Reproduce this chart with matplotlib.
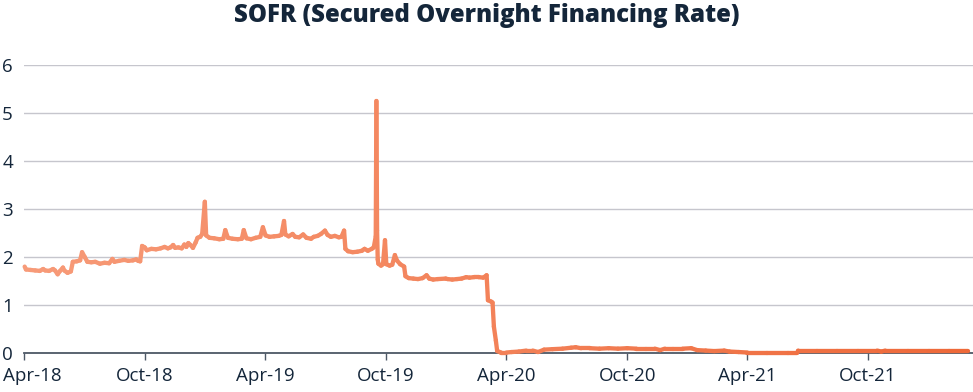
import numpy as np
import pandas as pd
import matplotlib
matplotlib.use("Agg")
import matplotlib.pyplot as plt
import matplotlib.dates as mdates
from matplotlib.collections import LineCollection
from matplotlib.colors import to_rgb
from matplotlib.transforms import ScaledTranslation

# ---------------- data ----------------
dates = [
    "2018-04-02", "2018-04-04", "2018-04-11", "2018-04-18", "2018-04-25", "2018-04-30",
    "2018-05-03", "2018-05-09", "2018-05-15", "2018-05-18", "2018-05-22", "2018-05-25",
    "2018-05-30", "2018-06-01", "2018-06-06", "2018-06-11", "2018-06-14", "2018-06-20",
    "2018-06-25", "2018-06-28", "2018-07-02", "2018-07-06", "2018-07-12", "2018-07-18",
    "2018-07-25", "2018-08-01", "2018-08-08", "2018-08-13", "2018-08-16", "2018-08-23",
    "2018-08-31", "2018-09-06", "2018-09-13", "2018-09-18", "2018-09-21", "2018-09-24",
    "2018-09-27", "2018-10-01", "2018-10-04", "2018-10-11", "2018-10-18", "2018-10-25",
    "2018-10-31", "2018-11-05", "2018-11-09", "2018-11-13", "2018-11-16", "2018-11-21",
    "2018-11-26", "2018-11-30", "2018-12-03", "2018-12-06", "2018-12-10", "2018-12-13",
    "2018-12-17", "2018-12-20", "2018-12-24", "2018-12-27", "2018-12-31",
    "2019-01-02", "2019-01-07", "2019-01-14", "2019-01-22", "2019-01-28", "2019-01-31",
    "2019-02-04", "2019-02-11", "2019-02-19", "2019-02-25", "2019-02-28", "2019-03-04",
    "2019-03-11", "2019-03-18", "2019-03-25", "2019-03-29", "2019-04-02", "2019-04-08",
    "2019-04-15", "2019-04-22", "2019-04-26", "2019-04-30", "2019-05-02", "2019-05-07",
    "2019-05-13", "2019-05-17", "2019-05-23", "2019-05-29", "2019-06-03", "2019-06-10",
    "2019-06-14", "2019-06-20", "2019-06-25", "2019-07-01", "2019-07-05", "2019-07-10",
    "2019-07-16", "2019-07-22", "2019-07-26", "2019-07-30", "2019-08-01", "2019-08-05",
    "2019-08-12", "2019-08-19", "2019-08-26", "2019-08-30", "2019-09-04", "2019-09-10",
    "2019-09-13", "2019-09-16", "2019-09-17", "2019-09-18", "2019-09-19", "2019-09-20",
    "2019-09-24", "2019-09-27", "2019-09-30", "2019-10-02", "2019-10-07", "2019-10-11",
    "2019-10-15", "2019-10-18", "2019-10-23", "2019-10-29", "2019-10-31", "2019-11-05",
    "2019-11-12", "2019-11-19", "2019-11-26", "2019-12-02", "2019-12-06", "2019-12-12",
    "2019-12-19", "2019-12-31",
    "2020-01-03", "2020-01-10", "2020-01-17", "2020-01-24", "2020-01-31", "2020-02-05",
    "2020-02-12", "2020-02-19", "2020-02-26", "2020-03-02", "2020-03-04", "2020-03-09",
    "2020-03-11", "2020-03-13", "2020-03-16", "2020-03-18", "2020-03-24", "2020-04-01",
    "2020-04-09", "2020-04-20", "2020-05-01", "2020-05-11", "2020-05-19", "2020-05-28",
    "2020-06-10", "2020-06-25", "2020-07-08", "2020-07-15", "2020-07-23", "2020-08-05",
    "2020-08-20", "2020-09-03", "2020-09-17", "2020-10-01", "2020-10-15", "2020-10-29",
    "2020-11-12", "2020-11-20", "2020-11-27", "2020-12-10", "2020-12-24",
    "2021-01-06", "2021-01-15", "2021-01-28", "2021-02-10", "2021-02-25", "2021-03-05",
    "2021-03-19", "2021-04-01", "2021-05-01", "2021-06-01", "2021-06-16", "2021-06-17",
    "2021-07-15", "2021-08-15", "2021-09-15", "2021-10-15", "2021-10-21", "2021-10-27",
    "2021-12-01", "2022-01-01", "2022-02-01", "2022-03-01",
]
sofr = [
    1.80, 1.74, 1.73, 1.72, 1.71, 1.75,
    1.72, 1.71, 1.75, 1.72, 1.64, 1.70,
    1.78, 1.72, 1.67, 1.70, 1.90, 1.91,
    1.93, 2.10, 2.00, 1.90, 1.89, 1.90,
    1.86, 1.88, 1.87, 1.96, 1.90, 1.92,
    1.94, 1.92, 1.93, 1.95, 1.92, 1.91,
    2.23, 2.20, 2.14, 2.17, 2.16, 2.18,
    2.21, 2.18, 2.20, 2.25, 2.19, 2.20,
    2.18, 2.26, 2.21, 2.29, 2.24, 2.19,
    2.30, 2.40, 2.42, 2.48, 3.15,
    2.45, 2.40, 2.39, 2.37, 2.38, 2.56,
    2.40, 2.38, 2.37, 2.38, 2.56, 2.39,
    2.37, 2.40, 2.42, 2.62, 2.45, 2.42,
    2.43, 2.44, 2.46, 2.75, 2.47, 2.43,
    2.48, 2.42, 2.41, 2.47, 2.40, 2.38,
    2.42, 2.44, 2.48, 2.55, 2.46, 2.42,
    2.44, 2.41, 2.42, 2.55, 2.17, 2.12,
    2.10, 2.11, 2.13, 2.17, 2.13, 2.17,
    2.20, 2.43, 5.25, 2.55, 1.95, 1.86,
    1.82, 1.85, 2.35, 1.85, 1.82, 1.84,
    2.04, 1.93, 1.85, 1.80, 1.60, 1.56,
    1.55, 1.54, 1.56, 1.62, 1.55, 1.53,
    1.54, 1.55,
    1.54, 1.53, 1.54, 1.55, 1.58, 1.57,
    1.58, 1.58, 1.57, 1.62, 1.10, 1.07,
    1.05, 0.55, 0.26, 0.04, 0.01, 0.01,
    0.02, 0.03, 0.05, 0.05, 0.02, 0.07,
    0.08, 0.09, 0.11, 0.12, 0.10, 0.10,
    0.09, 0.10, 0.09, 0.10, 0.09, 0.09,
    0.09, 0.06, 0.09, 0.09, 0.09,
    0.10, 0.06, 0.05, 0.04, 0.05, 0.03,
    0.02, 0.01, 0.01, 0.01, 0.01, 0.05,
    0.05, 0.05, 0.05, 0.05, 0.03, 0.05,
    0.05, 0.05, 0.05, 0.05,
]
tick_dates = ["2018-04-01", "2018-10-01", "2019-04-01", "2019-10-01",
              "2020-04-01", "2020-10-01", "2021-04-01", "2021-10-01"]
tick_labels = ["Apr-18", "Oct-18", "Apr-19", "Oct-19",
               "Apr-20", "Oct-20", "Apr-21", "Oct-21"]
y_ticks = [0, 1, 2, 3, 4, 5, 6]
title = "SOFR (Secured Overnight Financing Rate)"

# ---------------- style ----------------
TEXT = "#14263a"
GRID = "#c6c6cd"
AXIS = "#4d5866"
C_START = "#f79b79"
C_END = "#ee6838"

plt.rcParams["font.family"] = ["Open Sans", "DejaVu Sans"]

fig = plt.figure(figsize=(9.73, 3.92), dpi=100)
W, H = 973, 392
ax = fig.add_axes([24 / W, 39 / H, (973 - 24) / W, (353 - 65) / H])

x = mdates.date2num(pd.to_datetime(dates))
y = np.array(sofr)
pts = np.column_stack([x, y]).reshape(-1, 1, 2)
segs = np.concatenate([pts[:-1], pts[1:]], axis=1)
frac = (x[:-1] - x.min()) / (x.max() - x.min())
c0, c1 = np.array(to_rgb(C_START)), np.array(to_rgb(C_END))
cols = c0[None, :] * (1 - frac[:, None]) + c1[None, :] * frac[:, None]
lc = LineCollection(segs, colors=cols, linewidths=3.1, capstyle="round",
                    joinstyle="round", zorder=3)
lc.set_clip_on(False)
ax.add_collection(lc)

ax.set_xlim(mdates.date2num(pd.Timestamp("2018-04-01")),
            mdates.date2num(pd.Timestamp("2022-03-09")))
ax.set_ylim(0, 6)

ax.set_yticks(y_ticks)
ax.set_yticklabels([str(v) for v in y_ticks])
ax.set_xticks(mdates.date2num(pd.to_datetime(tick_dates)))
ax.set_xticklabels(tick_labels)

ax.grid(axis="y", color=GRID, linewidth=1.0, zorder=0)
ax.set_axisbelow(True)
for s in ["top", "right", "left"]:
    ax.spines[s].set_visible(False)
ax.spines["bottom"].set_color(AXIS)
ax.spines["bottom"].set_linewidth(1.3)
ax.spines["bottom"].set_zorder(2)

ax.tick_params(axis="y", length=0, pad=8, labelsize=13.5, labelcolor=TEXT)
ax.tick_params(axis="x", length=5, width=1.0, color=AXIS, pad=5,
               labelsize=13.5, labelcolor=TEXT)

# keep the first date label inside the figure, as in the reference
first = ax.get_xticklabels()[0]
first.set_horizontalalignment("left")
first.set_transform(first.get_transform() +
                    ScaledTranslation(-21 / 100, 0, fig.dpi_scale_trans))

fig.text(0.5, 1 - 16 / H, title, ha="center", va="center",
         fontsize=17.3, fontweight="heavy", color=TEXT)

fig.savefig("out.png", dpi=100)
